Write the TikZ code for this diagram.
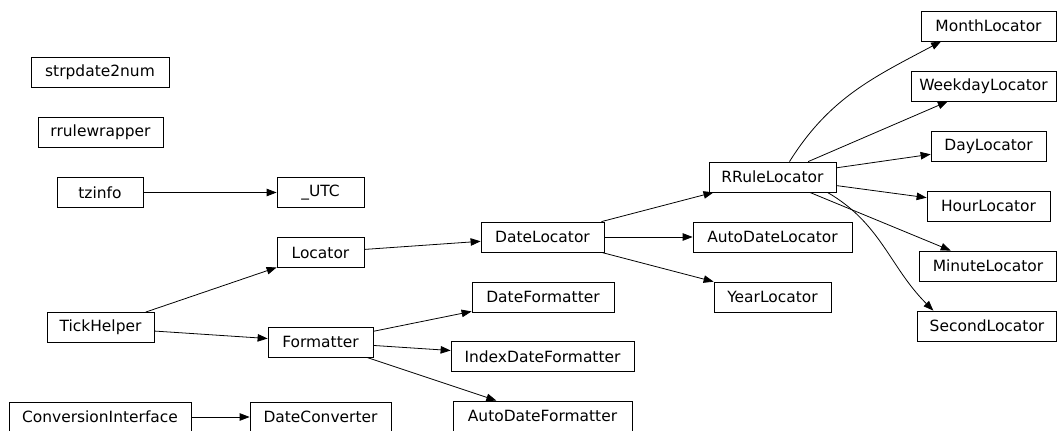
\documentclass[tikz,border=0pt]{standalone}
\usepackage{fontspec}
\setmainfont{DejaVu Sans}
\usetikzlibrary{arrows.meta, positioning}
\tikzset{
    cls/.style={rectangle, draw=black, line width=0.45pt, minimum height=0.6cm, inner sep=1pt, text centered, fill=white, font=\fontsize{8.8}{10}\selectfont},
    arrow/.style={-{Triangle[length=0.2cm, width=0.15cm]}, line width=0.45pt}
}
\begin{document}
\begin{tikzpicture}[x=0.02cm, y=-0.02cm]
                \useasboundingbox (0,0) rectangle (1057,431);

                % First column
                \node (strpdate) [cls, minimum width=2.76cm] at (100, 72.5) {strpdate2num};
                \node (rrulewrapper) [cls, minimum width=2.5cm] at (100.5, 132.5) {rrulewrapper};
                \node (tzinfo) [cls, minimum width=1.72cm] at (100, 192.5) {tzinfo};
                \node (tick_helper) [cls, minimum width=2.14cm] at (100.5, 327.5) {TickHelper};
                \node (conv_iface) [cls, minimum width=3.64cm] at (100, 417) {ConversionInterface};

                % Second column
                \node (utc) [cls, minimum width=1.74cm] at (320.5, 192.5) {\_UTC};
                \node (locator) [cls, minimum width=1.74cm] at (320.5, 252.5) {Locator};
                \node (formatter) [cls, minimum width=2.1cm] at (320.5, 342) {Formatter};
                \node (date_conv) [cls, minimum width=2.82cm] at (320.5, 417) {DateConverter};

                % Third column
                \node (date_locator) [cls, minimum width=2.46cm] at (542.5, 237) {DateLocator};
                \node (date_fmt) [cls, minimum width=2.84cm] at (543, 297) {DateFormatter};
                \node (index_fmt) [cls, minimum width=3.66cm] at (542.5, 356.5) {IndexDateFormatter};
                \node (auto_fmt) [cls, minimum width=3.58cm] at (542.5, 416) {AutoDateFormatter};

                % Fourth column
                \node (rrule_locator) [cls, minimum width=2.54cm] at (772.5, 177) {RRuleLocator};
                \node (auto_locator) [cls, minimum width=3.18cm] at (772.5, 237) {AutoDateLocator};
                \node (year_locator) [cls, minimum width=2.34cm] at (772.5, 297) {YearLocator};

                % Fifth column
                \node (month_locator) [cls, minimum width=2.7cm] at (988.5, 26) {MonthLocator};
                \node (weekday_locator) [cls, minimum width=2.9cm] at (983.5, 86) {WeekdayLocator};
                \node (day_locator) [cls, minimum width=2.3cm] at (988.5, 146) {DayLocator};
                \node (hour_locator) [cls, minimum width=2.46cm] at (988.5, 206) {HourLocator};
                \node (minute_locator) [cls, minimum width=2.74cm] at (988, 266) {MinuteLocator};
                \node (second_locator) [cls, minimum width=2.78cm] at (987, 326) {SecondLocator};

                % Edges
                \draw [arrow] (tzinfo) -- (utc);
                \draw [arrow] (tick_helper) -- (locator);
                \draw [arrow] (tick_helper) -- (formatter);
                \draw [arrow] (conv_iface) -- (date_conv);
                \draw [arrow] (locator) -- (date_locator);
                \draw [arrow] (formatter) -- (date_fmt);
                \draw [arrow] (formatter) -- (index_fmt);
                \draw [arrow] (formatter) -- (auto_fmt);
                \draw [arrow] (date_locator) -- (rrule_locator);
                \draw [arrow] (date_locator) -- (auto_locator);
                \draw [arrow] (date_locator) -- (year_locator);
                \draw [arrow] (rrule_locator.north) ++(17,0) to[out=58, in=-152] (month_locator.-162);
                \draw [arrow] (rrule_locator) -- (weekday_locator);
                \draw [arrow] (rrule_locator) -- (day_locator);
                \draw [arrow] (rrule_locator) -- (hour_locator);
                \draw [arrow] (rrule_locator) -- (minute_locator);
                \draw [arrow] (rrule_locator.south east) ++(-9,0) to[out=-30, in=135] (second_locator.164);

            \end{tikzpicture}
\end{document}
